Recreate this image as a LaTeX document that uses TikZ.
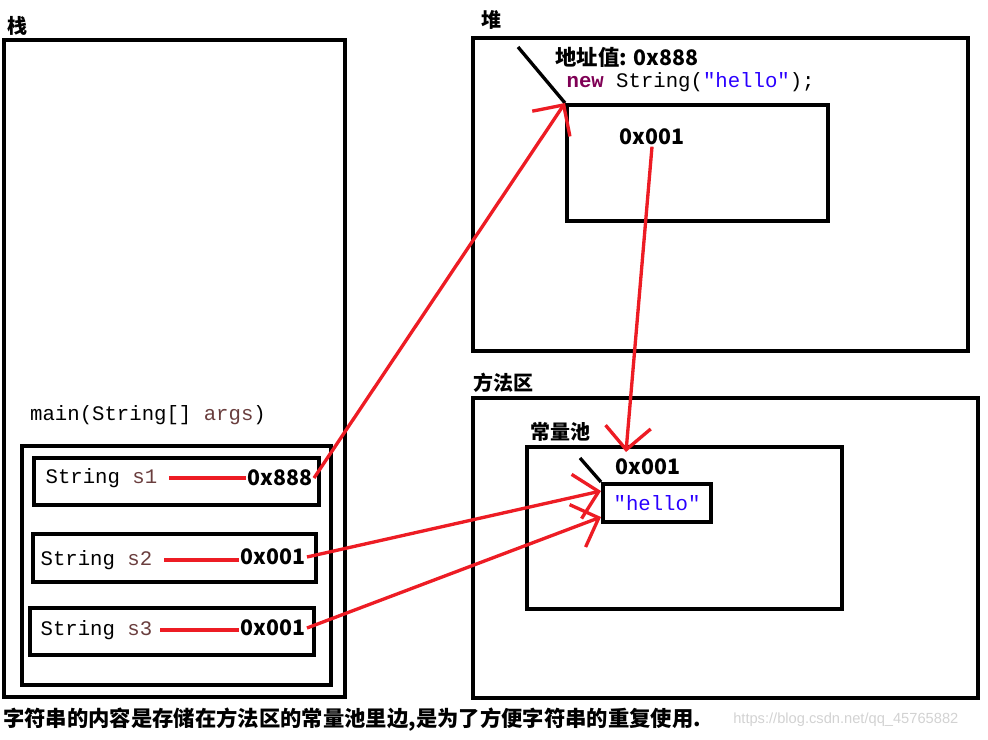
\documentclass[tikz,border=0pt]{standalone}
\usepackage{fontspec}
\usepackage{xcolor}
\newfontfamily\cjkfont{Noto Sans CJK SC}
\newfontfamily\codefont{Liberation Mono}
\newfontfamily\markfont{Liberation Sans}
\definecolor{refred}{RGB}{237,28,36}
\definecolor{varbrown}{RGB}{106,62,62}
\definecolor{kwpurple}{RGB}{127,0,85}
\definecolor{strblue}{RGB}{42,0,255}
\definecolor{markgray}{RGB}{210,210,210}
\usetikzlibrary{arrows.meta,positioning,fit}
\tikzset{
  memframe/.style={draw=black, line width=3pt, inner sep=0pt},
  arealabel/.style={font=\cjkfont\bfseries\fontsize{15}{18}\selectfont, anchor=west, inner sep=0pt},
  codetext/.style={font=\codefont\fontsize{15.5}{18}\selectfont, inner sep=1pt},
  addrtext/.style={font=\cjkfont\bfseries\fontsize{16}{19}\selectfont, inner sep=1pt},
  refline/.style={draw=refred, line width=2.5pt},
  refarrow/.style={refline, -{Straight Barb[length=17pt, width=34pt]}},
  ptrline/.style={draw=black, line width=2.5pt},
}

\begin{document}
\begin{tikzpicture}[x=0.75pt, y=-0.75pt]
\useasboundingbox (0,0) rectangle (988,739);

% --- Stack ---
\node[memframe, fit={(4,40) (345,697)}] (stackbox) {};
\node[arealabel] (stacklbl) at (7,26) {栈};
\node[codetext] (mainsig) at (148,415) {main(String[] \textcolor{varbrown}{args})};
\node[memframe, fit={(22,446) (331,685)}] (mainframe) {};
\node[memframe, fit={(34,458) (319,505)}] (s1box) {};
\node[memframe, fit={(33,534) (316,582)}] (s2box) {};
\node[memframe, fit={(30,608) (314,655)}] (s3box) {};

\node[codetext, anchor=west] (s1name) at (44,478) {String \textcolor{varbrown}{s1}};
\node[addrtext, anchor=east] (s1val) at (314,478) {0x888};
\node[codetext, anchor=west] (s2name) at (39,560) {String \textcolor{varbrown}{s2}};
\node[addrtext, anchor=east] (s2val) at (307,557) {0x001};
\node[codetext, anchor=west] (s3name) at (39,630) {String \textcolor{varbrown}{s3}};
\node[addrtext, anchor=east] (s3val) at (307,628) {0x001};

\draw[refline, line width=3pt, shorten <=8pt] (s1name.east) -- (s1name.east -| s1val.west);
\draw[refline, line width=3pt, shorten <=8pt] (s2name.east) -- (s2name.east -| s2val.west);
\draw[refline, line width=3pt, shorten <=5pt] (s3name.east) -- (s3name.east -| s3val.west);

% --- Heap ---
\node[memframe, fit={(473,38) (968,351)}] (heapbox) {};
\node[arealabel] (heaplbl) at (481,20) {堆};
\node[addrtext, anchor=west] (objaddr) at (554,57) {地址值: 0x888};
\node[codetext, anchor=west] (objcode) at (565,82) {\textcolor{kwpurple}{\bfseries new} String(\textcolor{strblue}{"hello"});};
\node[memframe, fit={(567,105) (828,221)}] (obj) {};
\node[addrtext] (heapval) at (652,137) {0x001};
\coordinate (objtag) at (518,47);
\draw[ptrline] (objtag) -- (obj.north west);

% --- Method area ---
\node[memframe, fit={(473,398) (978,698)}] (methodbox) {};
\node[arealabel] (methodlbl) at (473,383) {方法区};
\node[memframe, fit={(527,447) (842,609)}] (poolbox) {};
\node[arealabel] (poollbl) at (530,432) {常量池};
\node[addrtext] (poolval) at (648,467) {0x001};
\node[memframe, fit={(603,484) (711,522)}] (hellobox) {};
\node[codetext, text=strblue] (hello) at (657,503) {"hello"};
\coordinate (hellotag) at (580,458);
\draw[ptrline] (hellotag) -- (hellobox.north west);

% --- References ---
\coordinate (poolin) at (626,452);
\draw[refarrow] (s1val.east) -- (obj.north west);
\draw[refarrow] (heapval.south) -- (poolin);
\draw[refarrow] (s2val.east) -- (hellobox.west |- 0,491);
\draw[refarrow] (s3val.east) -- (hellobox.west |- 0,517);

% --- Caption ---
\node[arealabel, font=\cjkfont\bfseries\fontsize{16}{19}\selectfont] (caption) at (3,720)
  {字符串的内容是存储在方法区的常量池里边,是为了方便字符串的重复使用.};
\node[font=\markfont\fontsize{11}{13}\selectfont, text=markgray, anchor=west, inner sep=0pt]
  (watermark) at (733,720) {https://blog.csdn.net/qq\_45765882};

\end{tikzpicture}
\end{document}
